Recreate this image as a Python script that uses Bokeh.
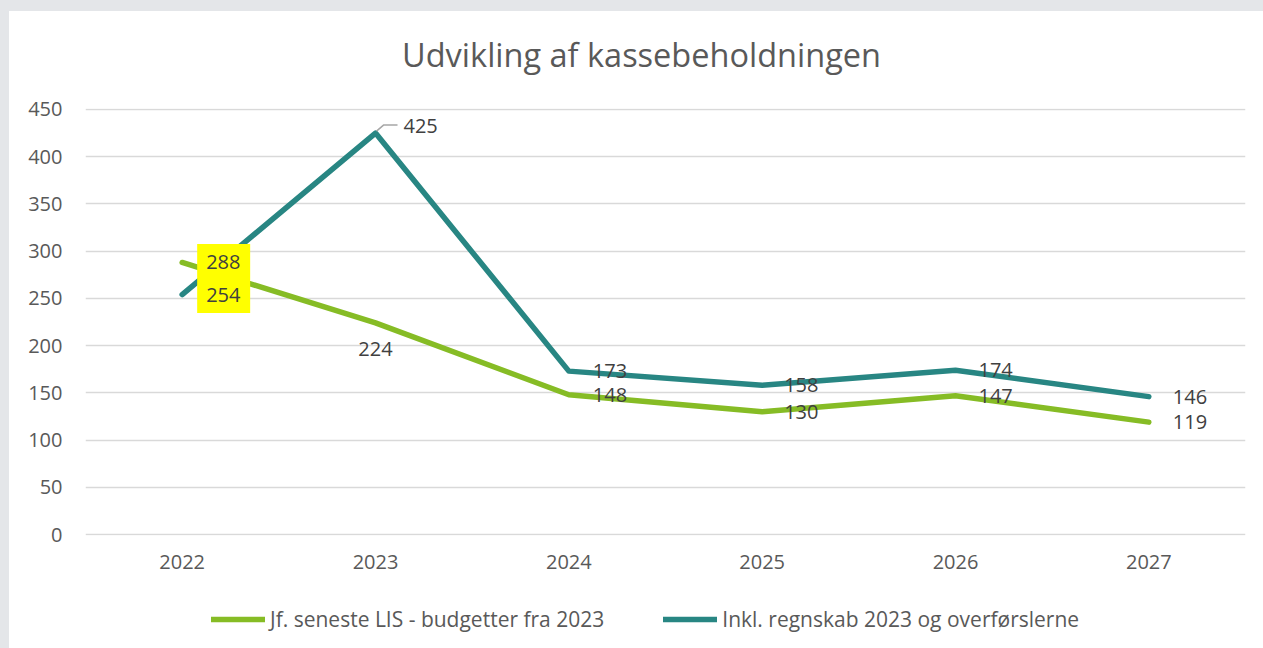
from bokeh.plotting import figure
from bokeh.layouts import column, row
from bokeh.models import Range1d, FixedTicker, Legend, LegendItem, ColumnDataSource, Spacer
from bokeh.core.properties import value
from bokeh.embed import file_html
from bokeh.resources import INLINE

# ---- data ----
title_text = "Udvikling af kassebeholdningen"
years = ["2022", "2023", "2024", "2025", "2026", "2027"]
lis_budget = [288, 224, 148, 130, 147, 119]
inkl_regnskab = [254, 425, 173, 158, 174, 146]
series_names = ["Jf. seneste LIS - budgetter fra 2023", "Inkl. regnskab 2023 og overførslerne"]
y_ticks = [0, 50, 100, 150, 200, 250, 300, 350, 400, 450]

# ---- styling ----
GREEN = "#86BC25"
TEAL = "#288683"
TXT = "#595959"
LBL = "#404040"
FONT = "Open Sans"
W = 1254

xs = list(range(len(years)))

def strip(h):
    f = figure(width=W, height=h, output_backend="svg", toolbar_location=None,
               x_axis_location=None, y_axis_location=None,
               x_range=Range1d(0, 1), y_range=Range1d(0, 1),
               min_border_left=0, min_border_right=0, min_border_top=0, min_border_bottom=0)
    f.outline_line_color = None
    f.grid.visible = False
    f.background_fill_color = "white"
    f.border_fill_color = "white"
    return f

# ---- title strip ----
tt = strip(80)
tt.text(x=[0.5], y=[37 / 80], text=[title_text], x_offset=-24, text_align="center",
        text_baseline="alphabetic", text_font=value(FONT), text_font_size="32.5px",
        text_color=TXT)

# ---- main chart ----
p = figure(width=W, height=504, output_backend="svg", toolbar_location=None,
           x_range=Range1d(-0.5, len(years) - 0.5), y_range=Range1d(-1, 451),
           min_border_left=76, min_border_right=18, min_border_top=17, min_border_bottom=60)
p.outline_line_color = None
p.background_fill_color = "white"
p.border_fill_color = "white"

p.xgrid.visible = False
p.ygrid.ticker = FixedTicker(ticks=y_ticks)
p.ygrid.grid_line_color = "#D9D9D9"
p.ygrid.grid_line_width = 1.5

p.yaxis.ticker = FixedTicker(ticks=y_ticks)
p.xaxis.ticker = FixedTicker(ticks=xs)
p.xaxis.major_label_overrides = {i: y for i, y in enumerate(years)}
for ax in (p.xaxis[0], p.yaxis[0]):
    ax.axis_line_color = None
    ax.major_tick_line_color = None
    ax.minor_tick_line_color = None
    ax.major_tick_out = 0
    ax.major_tick_in = 0
    ax.major_label_text_font = FONT
    ax.major_label_text_font_size = "20px"
    ax.major_label_text_color = TXT
p.yaxis.major_label_standoff = 23
p.xaxis.major_label_standoff = 19

r1 = p.line(xs, lis_budget, line_color=GREEN, line_width=5.5, line_join="round", line_cap="round")
r2 = p.line(xs, inkl_regnskab, line_color=TEAL, line_width=5.5, line_join="round", line_cap="round")

# pixel -> data conversions (frame is 1160 px wide, 427 px tall)
px_x = len(years) / 1160.0
px_y = 452 / 427.0

# leader line for the 2023 peak label
i_peak = 1
p.line([xs[i_peak] + 1 * px_x, xs[i_peak] + 8 * px_x, xs[i_peak] + 22 * px_x],
       [inkl_regnskab[i_peak] + 2 * px_y, inkl_regnskab[i_peak] + 8 * px_y, inkl_regnskab[i_peak] + 8 * px_y],
       line_color="#A6A6A6", line_width=1.5)

# yellow highlight behind the 2022 labels
p.rect(x=[xs[0] + 41.5 * px_x], y=[(lis_budget[0] + inkl_regnskab[0]) / 2],
       width=53, height=69, width_units="screen", height_units="screen",
       fill_color="#FFFF00", line_color=None)

# data labels
g_xoff = [24, 0, 24, 22, 23, 24]
g_yoff = [0, 26, 0, 0, 0, 0]
g_align = ["left", "center", "left", "left", "left", "left"]
t_xoff = [24, 28, 24, 22, 23, 24]
t_yoff = [0, -7, 0, 0, 0, 0]
t_align = ["left"] * len(years)

def labels(vals, xoff, yoff, align):
    src = ColumnDataSource(dict(x=xs, y=vals, t=[str(v) for v in vals],
                                xo=xoff, yo=yoff, al=align))
    p.text(x="x", y="y", text="t", x_offset="xo", y_offset="yo", text_align="al",
           text_baseline="middle", text_font=value(FONT), text_font_size="20px",
           text_color=LBL, source=src)

labels(lis_budget, g_xoff, g_yoff, g_align)
labels(inkl_regnskab, t_xoff, t_yoff, t_align)

# ---- legend strip (frame aligned with the chart) ----
lg = strip(53)
d1 = lg.line([-10, -9], [-10, -10], line_color=GREEN, line_width=5.5, line_cap="round")
d2 = lg.line([-10, -9], [-10, -10], line_color=TEAL, line_width=5.5, line_cap="round")

legend = Legend(items=[LegendItem(label=series_names[0], renderers=[d1]),
                       LegendItem(label=series_names[1], renderers=[d2])],
                orientation="horizontal", location=(126, 15))
legend.glyph_width = 54
legend.glyph_height = 20
legend.label_height = 20
legend.label_standoff = 5
legend.spacing = 59
legend.padding = 0
legend.margin = 0
legend.label_text_font = FONT
legend.label_text_font_size = "21px"
legend.label_text_color = TXT
legend.border_line_color = None
legend.background_fill_alpha = 0
lg.add_layout(legend, "center")

card = column(tt, p, lg, spacing=0, styles={"background-color": "white"})
layout = column(Spacer(width=1263, height=11),
                row(Spacer(width=9, height=637), card),
                styles={"background-color": "#E4E6E9"}, spacing=0)
open("out.html", "w").write(file_html(layout, INLINE))
